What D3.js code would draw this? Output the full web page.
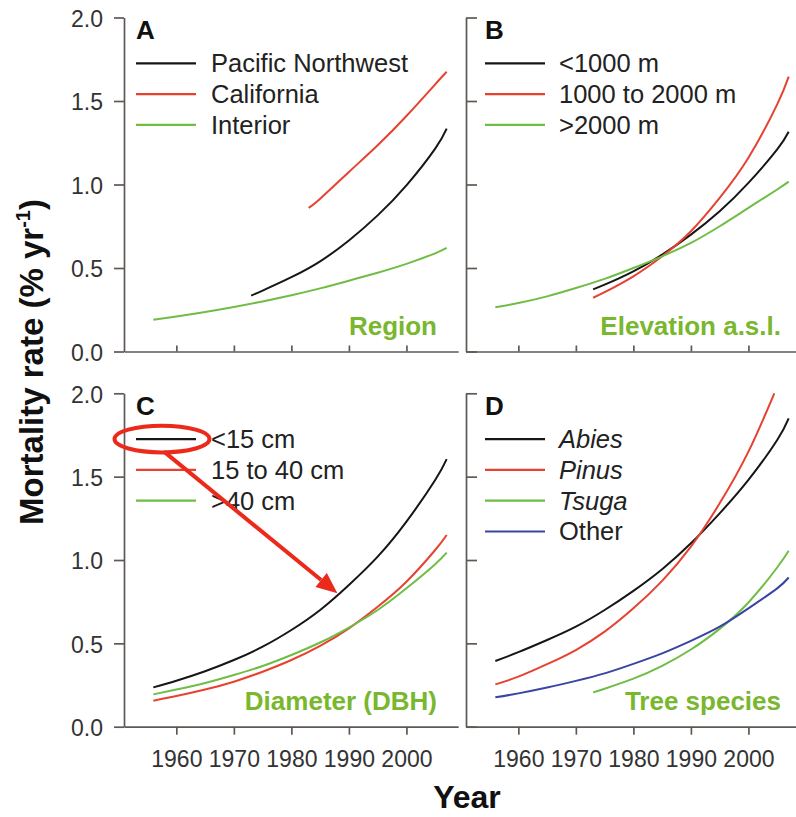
<!DOCTYPE html>
<html>
<head>
<meta charset="utf-8">
<script src="https://cdn.jsdelivr.net/npm/d3@7"></script>
<style>
  html, body { margin: 0; padding: 0; background: #fff; }
  svg { display: block; font-family: "Liberation Sans", Arial, Helvetica, sans-serif; }
</style>
</head>
<body>
<svg id="chart" width="796" height="817"></svg>
<script>
// ---- Data: modelled mortality rate (% per year) by census year ----
const yearsFull  = [1956, 1960, 1965, 1970, 1975, 1980, 1985, 1990, 1995, 2000, 2005, 2007];
const yearsMid   = [1973, 1975, 1980, 1985, 1990, 1995, 2000, 2005, 2007];
const yearsLate  = [1983, 1985, 1990, 1995, 2000, 2005, 2007];
const yearsPinus = [1956, 1960, 1965, 1970, 1975, 1980, 1985, 1990, 1995, 2000, 2004.5];

// A: region
const pacificNorthwest = [0.335, 0.365, 0.445, 0.54, 0.665, 0.815, 0.995, 1.215, 1.335];
const california       = [0.86, 0.915, 1.075, 1.235, 1.41, 1.60, 1.675];
const interior         = [0.19, 0.21, 0.237, 0.267, 0.30, 0.337, 0.378, 0.424, 0.472, 0.525, 0.588, 0.62];

// B: elevation above sea level
const elevLow  = [0.372, 0.40, 0.48, 0.58, 0.70, 0.84, 1.01, 1.21, 1.316];
const elevMid  = [0.322, 0.355, 0.45, 0.57, 0.72, 0.92, 1.16, 1.48, 1.646];
const elevHigh = [0.265, 0.29, 0.33, 0.38, 0.435, 0.50, 0.57, 0.65, 0.75, 0.86, 0.97, 1.017];

// C: stem diameter (DBH)
const dbhSmall  = [0.236, 0.276, 0.333, 0.40, 0.48, 0.58, 0.70, 0.85, 1.02, 1.23, 1.48, 1.605];
const dbhMedium = [0.156, 0.184, 0.223, 0.27, 0.33, 0.40, 0.485, 0.59, 0.72, 0.87, 1.06, 1.15];
const dbhLarge  = [0.194, 0.223, 0.262, 0.31, 0.364, 0.43, 0.505, 0.595, 0.70, 0.83, 0.975, 1.044];

// D: tree genus
const abies = [0.394, 0.447, 0.52, 0.60, 0.70, 0.815, 0.945, 1.10, 1.28, 1.48, 1.72, 1.85];
const pinus = [0.254, 0.30, 0.375, 0.46, 0.57, 0.71, 0.875, 1.08, 1.34, 1.65, 2.0];
const tsuga = [0.206, 0.228, 0.288, 0.365, 0.463, 0.587, 0.745, 0.955, 1.055];
const other = [0.176, 0.20, 0.235, 0.275, 0.32, 0.377, 0.44, 0.515, 0.60, 0.71, 0.83, 0.895];

// Axes
const xTickYears = [1960, 1970, 1980, 1990, 2000];
const yTickValues = [0, 0.5, 1.0, 1.5, 2.0];
const xDomain = [1950.9, 2009];
const yDomain = [0, 2];

// Annotation in panel C: arrow to the small-tree curve
const arrowTarget = { year: 1988, value: 0.80 };

// ---- Styling ----
const C_BLACK = "#161616", C_RED = "#e6422f", C_GREEN = "#6fbd45", C_BLUE = "#3a45a2";
const C_TITLE = "#78b72e", C_AXIS = "#5e5955", C_TICKTXT = "#333", C_ANNOT = "#ec2a1b";

const panels = [
  { letter: "A", title: "Region", col: 0, row: 0, series: [
    { name: "Pacific Northwest", years: yearsMid, values: pacificNorthwest, color: C_BLACK },
    { name: "California", years: yearsLate, values: california, color: C_RED },
    { name: "Interior", years: yearsFull, values: interior, color: C_GREEN } ] },
  { letter: "B", title: "Elevation a.s.l.", col: 1, row: 0, series: [
    { name: "<1000 m", years: yearsMid, values: elevLow, color: C_BLACK },
    { name: "1000 to 2000 m", years: yearsMid, values: elevMid, color: C_RED },
    { name: ">2000 m", years: yearsFull, values: elevHigh, color: C_GREEN } ] },
  { letter: "C", title: "Diameter (DBH)", col: 0, row: 1, series: [
    { name: "<15 cm", years: yearsFull, values: dbhSmall, color: C_BLACK },
    { name: "15 to 40 cm", years: yearsFull, values: dbhMedium, color: C_RED },
    { name: ">40 cm", years: yearsFull, values: dbhLarge, color: C_GREEN } ] },
  { letter: "D", title: "Tree species", col: 1, row: 1, series: [
    { name: "Abies", years: yearsFull, values: abies, color: C_BLACK, italic: true },
    { name: "Pinus", years: yearsPinus, values: pinus, color: C_RED, italic: true },
    { name: "Tsuga", years: yearsMid, values: tsuga, color: C_GREEN, italic: true },
    { name: "Other", years: yearsFull, values: other, color: C_BLUE } ] }
];

// ---- Layout ----
const cols = [ { x0: 124, x1: 458.2, letterDx: 12, legDx: 12, textDx: 87, titleEnd: 437 },
               { x0: 466, x1: 800.2, letterDx: 19, legDx: 19, textDx: 93, titleEnd: 781 } ];
const rows = [ { y0: 351.5, y1: 17.5 }, { y0: 726.7, y1: 393.3 } ];

const svg = d3.select("#chart");

panels.forEach(p => {
  const c = cols[p.col], r = rows[p.row];
  const x = d3.scaleLinear().domain(xDomain).range([c.x0, c.x1]);
  const y = d3.scaleLinear().domain(yDomain).range([r.y0, r.y1]);
  const g = svg.append("g").attr("class", "panel");

  // y axis
  const yAxis = (p.col === 0 ? d3.axisLeft(y).tickFormat(d3.format(".1f")).tickSize(10).tickPadding(11)
                             : d3.axisRight(y).tickFormat("").tickSize(11))
    .tickValues(yTickValues).tickSizeOuter(0);
  const gy = g.append("g").attr("transform", `translate(${c.x0},0)`).call(yAxis);

  // x axis
  const xAxis = (p.row === 0 ? d3.axisTop(x).tickFormat("").tickSize(6)
                             : d3.axisBottom(x).tickFormat(d3.format("d")).tickSize(8).tickPadding(16))
    .tickValues(xTickYears).tickSizeOuter(0);
  const gx = g.append("g").attr("transform", `translate(0,${r.y0})`).call(xAxis);

  [gx, gy].forEach(a => {
    a.select(".domain").attr("stroke", C_AXIS).attr("stroke-width", 1.7);
    a.selectAll(".tick line").attr("stroke", C_AXIS).attr("stroke-width", 1.7);
    a.selectAll(".tick text").attr("fill", C_TICKTXT).style("font-size", "23px")
      .style("font-family", "'Liberation Sans', Arial, sans-serif");
  });
  gy.selectAll(".tick text").attr("dy", "0.38em");

  // curves
  const line = d3.line().x(d => x(d[0])).y(d => y(d[1])).curve(d3.curveNatural);
  p.series.forEach(s => {
    g.append("path")
      .datum(s.years.map((yr, i) => [yr, s.values[i]]))
      .attr("d", line)
      .attr("fill", "none")
      .attr("stroke", s.color)
      .attr("stroke-width", 2)
      .attr("stroke-linecap", "butt");
  });

  // panel letter
  g.append("text")
    .attr("x", c.x0 + c.letterDx).attr("y", r.y1 + 21.5)
    .attr("font-size", 26).attr("font-weight", "bold").attr("fill", "#111")
    .text(p.letter);

  // legend
  p.series.forEach((s, i) => {
    const ly = r.y1 + 45.8 + i * 30.8;
    g.append("line")
      .attr("x1", c.x0 + c.legDx).attr("x2", c.x0 + c.legDx + 60)
      .attr("y1", ly).attr("y2", ly)
      .attr("stroke", s.color).attr("stroke-width", 2.2);
    g.append("text")
      .attr("x", c.x0 + c.textDx).attr("y", ly).attr("dy", "0.35em")
      .attr("font-size", 25.5).attr("fill", "#222")
      .attr("font-style", s.italic ? "italic" : "normal")
      .text(s.name);
  });

  // panel title
  g.append("text")
    .attr("x", c.titleEnd).attr("y", r.y0 - 16.5)
    .attr("text-anchor", "end")
    .attr("font-size", 26).attr("font-weight", "bold").attr("fill", C_TITLE)
    .text(p.title);

  // annotation in panel C
  if (p.letter === "C") {
    const ex = c.x0 + c.legDx + 26, ey = r.y1 + 45.8;
    g.append("ellipse")
      .attr("cx", ex).attr("cy", ey).attr("rx", 47.5).attr("ry", 13.3)
      .attr("fill", "none").attr("stroke", C_ANNOT).attr("stroke-width", 4);
    const sx = ex + 2, sy = ey + 12.5;
    const tx = x(arrowTarget.year), ty = y(arrowTarget.value);
    const ang = Math.atan2(ty - sy, tx - sx);
    const headLen = 21, headHalf = 9;
    const bx = tx - headLen * Math.cos(ang), by = ty - headLen * Math.sin(ang);
    g.append("line")
      .attr("x1", sx).attr("y1", sy).attr("x2", bx).attr("y2", by)
      .attr("stroke", C_ANNOT).attr("stroke-width", 4);
    const nx = -Math.sin(ang), ny = Math.cos(ang);
    g.append("path")
      .attr("d", `M${tx},${ty}L${bx + nx * headHalf},${by + ny * headHalf}L${bx - nx * headHalf},${by - ny * headHalf}Z`)
      .attr("fill", C_ANNOT);
  }
});

// shared axis titles
const yLab = svg.append("text")
  .attr("transform", "translate(43,362) rotate(-90)")
  .attr("text-anchor", "middle")
  .attr("font-size", 33).attr("font-weight", "bold").attr("fill", "#111");
yLab.append("tspan").text("Mortality rate (% yr");
yLab.append("tspan").attr("dy", -13).attr("font-size", 20).text("-1");
yLab.append("tspan").attr("dy", 13).text(")");

svg.append("text")
  .attr("x", 467).attr("y", 808)
  .attr("text-anchor", "middle")
  .attr("font-size", 32).attr("font-weight", "bold").attr("fill", "#111")
  .text("Year");
</script>
</body>
</html>
